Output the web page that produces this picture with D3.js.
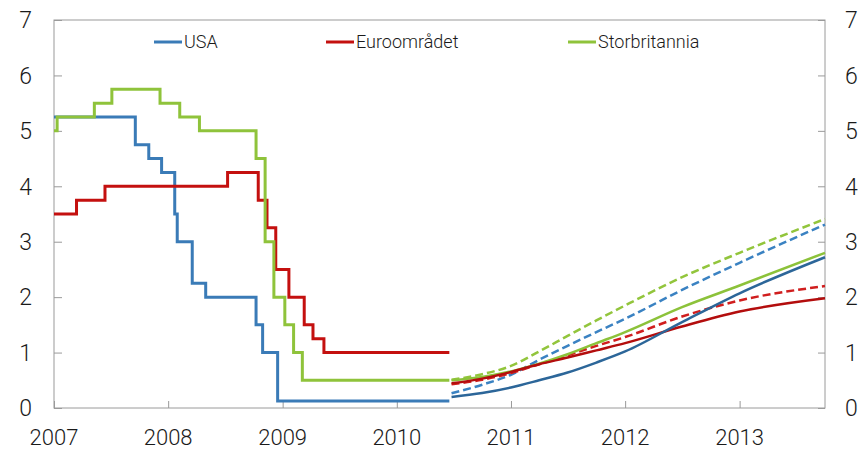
<!DOCTYPE html>
<html>
<head>
<meta charset="utf-8">
<script src="https://cdn.jsdelivr.net/npm/d3@7"></script>
<style>
  body { margin: 0; background: #fff; }
  svg text { font-family: Roboto, "Liberation Sans", sans-serif; font-weight: 300; fill: #1a1a1a; }
</style>
</head>
<body>
<div id="container" style="width:863px;height:451px"></div>
<script>
// historical policy rates (step changes)
var usaDates = ["2007-01-01", "2007-09-18", "2007-10-31", "2007-12-11", "2008-01-22", "2008-01-30",
    "2008-03-18", "2008-04-30", "2008-10-08", "2008-10-29", "2008-12-16", "2010-06-18"];
var usaRates = [5.25, 4.75, 4.5, 4.25, 3.5, 3.0, 2.25, 2.0, 1.5, 1.0, 0.125, 0.125];

var euroDates = ["2007-01-01", "2007-03-14", "2007-06-13", "2008-07-09", "2008-10-15", "2008-11-12",
    "2008-12-10", "2009-01-21", "2009-03-11", "2009-04-08", "2009-05-13", "2010-06-18"];
var euroRates = [3.5, 3.75, 4.0, 4.25, 3.75, 3.25, 2.5, 2.0, 1.5, 1.25, 1.0, 1.0];

var ukDates = ["2007-01-01", "2007-01-11", "2007-05-10", "2007-07-05", "2007-12-06", "2008-02-07",
    "2008-04-10", "2008-10-08", "2008-11-06", "2008-12-04", "2009-01-08", "2009-02-05", "2009-03-05", "2010-06-18"];
var ukRates = [5.0, 5.25, 5.5, 5.75, 5.5, 5.25, 5.0, 4.5, 3.0, 2.0, 1.5, 1.0, 0.5, 0.5];

// forward rates, two vintages (solid / dashed)
var fwdDates = ["2010-06-25", "2010-10-01", "2011-01-01", "2011-04-01", "2011-07-01", "2011-10-01",
    "2012-01-01", "2012-07-01", "2013-01-01", "2013-10-01"];
var usaFwd = [0.20, 0.27, 0.37, 0.50, 0.64, 0.82, 1.02, 1.55, 2.07, 2.72];
var usaFwdOld = [0.265, 0.42, 0.60, 0.87, 1.12, 1.37, 1.61, 2.13, 2.62, 3.31];
var euroFwd = [0.445, 0.53, 0.65, 0.79, 0.91, 1.04, 1.17, 1.47, 1.74, 1.98];
var euroFwdOld = [0.43, 0.51, 0.63, 0.79, 0.95, 1.12, 1.28, 1.65, 1.94, 2.20];
var ukFwd = [0.50, 0.56, 0.66, 0.80, 0.97, 1.17, 1.37, 1.82, 2.21, 2.80];
var ukFwdOld = [0.51, 0.61, 0.76, 1.02, 1.30, 1.58, 1.85, 2.36, 2.80, 3.41];

var yearTicks = ["2007", "2008", "2009", "2010", "2011", "2012", "2013"];
var yTicks = [0, 1, 2, 3, 4, 5, 6, 7];
var legendNames = ["USA", "Euroområdet", "Storbritannia"];

var parse = d3.timeParse("%Y-%m-%d");
function zip(dates, vals) {
    return dates.map(function(d, i) { return { date: parse(d), value: vals[i] }; });
}

function redraw() {
    var width = 863, height = 451;
    var left = 54, right = 825, top = 20, bottom = 408;

    d3.select("svg").remove();
    var svg = d3.select("div#container").append("svg")
        .attr("width", width)
        .attr("height", height);

    var x = d3.scaleTime()
        .domain([parse("2007-01-01"), parse("2013-10-01")])
        .range([left, right]);
    var y = d3.scaleLinear().domain([0, 7]).range([bottom, top]);

    var axisColor = "#9a9a9a";

    // frame
    svg.append("rect")
        .attr("x", left).attr("y", top)
        .attr("width", right - left).attr("height", bottom - top)
        .attr("fill", "none").attr("stroke", axisColor).attr("stroke-width", 1);

    // axes
    var yLeft = svg.append("g").attr("transform", "translate(" + left + ",0)")
        .call(d3.axisRight(y).tickValues(yTicks).tickSize(8).tickFormat(""));
    var yRight = svg.append("g").attr("transform", "translate(" + right + ",0)")
        .call(d3.axisLeft(y).tickValues(yTicks).tickSize(7).tickFormat(""));
    var xAxis = svg.append("g").attr("transform", "translate(0," + bottom + ")")
        .call(d3.axisTop(x).tickValues(yearTicks.map(function(t) { return parse(t + "-01-01"); }))
            .tickSize(7).tickFormat(""));
    [yLeft, yRight, xAxis].forEach(function(g) {
        g.select(".domain").remove();
        g.selectAll("line").attr("stroke", axisColor);
    });

    // tick labels
    svg.append("g").selectAll("text").data(yTicks).enter().append("text")
        .attr("x", 32).attr("y", function(d) { return y(d); })
        .attr("dy", "0.36em").attr("text-anchor", "end")
        .style("font-size", "23px").text(function(d) { return d; });
    svg.append("g").selectAll("text").data(yTicks).enter().append("text")
        .attr("x", 845).attr("y", function(d) { return y(d); })
        .attr("dy", "0.36em").attr("text-anchor", "start")
        .style("font-size", "23px").text(function(d) { return d; });
    svg.append("g").selectAll("text").data(yearTicks).enter().append("text")
        .attr("x", function(d) { return x(parse(d + "-01-01")); })
        .attr("y", 445).attr("text-anchor", "middle")
        .style("font-size", "22px").text(function(d) { return d; });

    var step = d3.line()
        .x(function(d) { return x(d.date); })
        .y(function(d) { return y(d.value); })
        .curve(d3.curveStepAfter);
    var smooth = d3.line()
        .x(function(d) { return x(d.date); })
        .y(function(d) { return y(d.value); })
        .curve(d3.curveMonotoneX);

    var series = [
        { data: zip(fwdDates, ukFwdOld), color: "#92c53c", dash: "8,4", w: 2.5, line: smooth },
        { data: zip(fwdDates, usaFwdOld), color: "#3a82c2", dash: "8,4", w: 2.5, line: smooth },
        { data: zip(fwdDates, euroFwdOld), color: "#d01e1e", dash: "8,4", w: 2.5, line: smooth },
        { data: zip(fwdDates, ukFwd), color: "#8cc23a", dash: null, w: 2.5, line: smooth },
        { data: zip(fwdDates, euroFwd), color: "#b30d0d", dash: null, w: 2.5, line: smooth },
        { data: zip(fwdDates, usaFwd), color: "#2c6699", dash: null, w: 2.5, line: smooth },
        { data: zip(usaDates, usaRates), color: "#3a7bb7", dash: null, w: 3, line: step },
        { data: zip(euroDates, euroRates), color: "#c4100f", dash: null, w: 3, line: step },
        { data: zip(ukDates, ukRates), color: "#8fc33b", dash: null, w: 3, line: step }
    ];

    svg.append("g").selectAll("path").data(series).enter().append("path")
        .attr("d", function(d) { return d.line(d.data); })
        .attr("fill", "none")
        .attr("stroke", function(d) { return d.color; })
        .attr("stroke-width", function(d) { return d.w; })
        .attr("stroke-dasharray", function(d) { return d.dash; });

    // legend
    var legendColors = ["#3a7bb7", "#c4100f", "#8fc33b"];
    var legendX = [154, 326, 568];
    var legend = svg.append("g").selectAll("g").data(legendNames).enter().append("g")
        .attr("transform", function(d, i) { return "translate(" + legendX[i] + ",42)"; });
    legend.append("line")
        .attr("x1", 0).attr("x2", 28)
        .attr("stroke", function(d, i) { return legendColors[i]; })
        .attr("stroke-width", 3);
    legend.append("text")
        .attr("x", 30).attr("dy", "0.36em")
        .style("font-size", "18px")
        .text(function(d) { return d; });
}

redraw();
</script>
</body>
</html>
